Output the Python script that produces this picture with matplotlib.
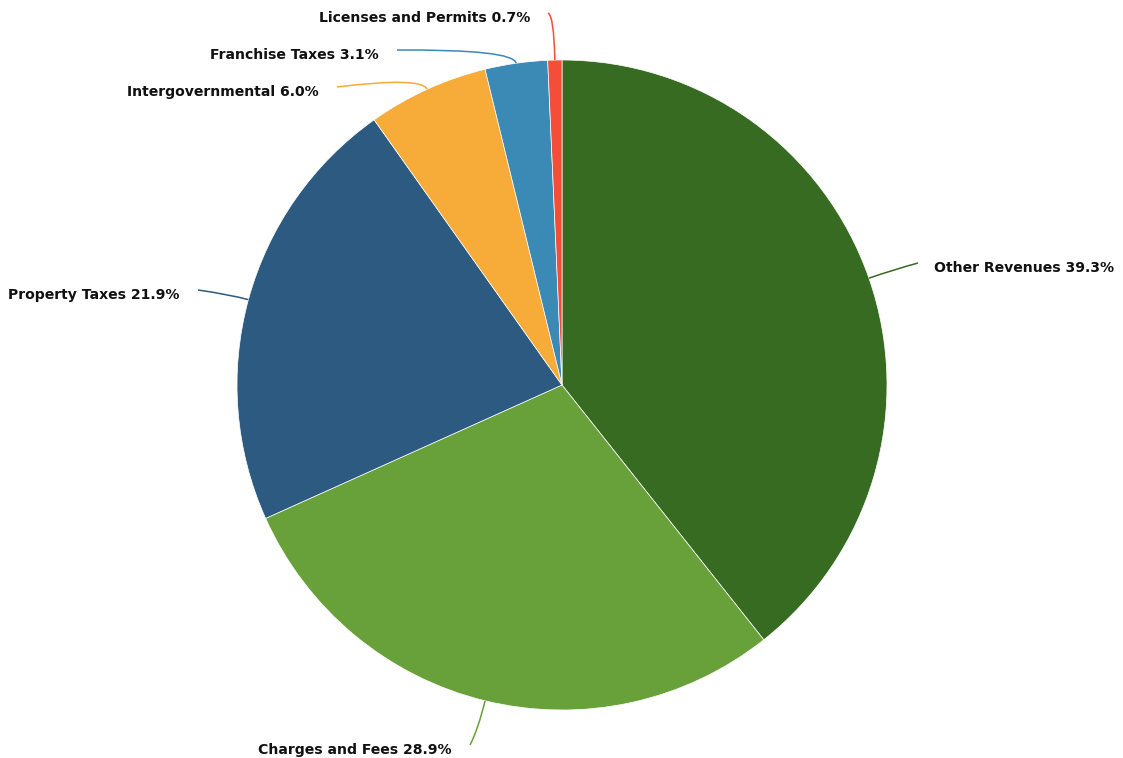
import matplotlib
matplotlib.use("Agg")
import matplotlib.pyplot as plt
import numpy as np
from matplotlib.path import Path
from matplotlib.patches import PathPatch

# revenue shares, clockwise from 12 o'clock
categories = ["Other Revenues", "Charges and Fees", "Property Taxes",
              "Intergovernmental", "Franchise Taxes", "Licenses and Permits"]
shares = [39.3, 28.9, 21.9, 6.0, 3.1, 0.7]
colors = ["#366b21", "#68a03a", "#2d5a80", "#f7ab38", "#3b89b5", "#f44d38"]

W, H = 1123, 758
cx, cy, R = 562, H - 385, 325

# where each connector ends (pixel coords, y from top) and label alignment
label_ends = [(918, 263), (470, 745), (198, 290), (337, 87), (397, 50), (548, 13)]
ctrl_push = [25, 30, 20, 14, 14, 45]
label_align = ["left", "right", "right", "right", "right", "right"]

fig = plt.figure(figsize=(W / 100, H / 100), dpi=100)
ax = fig.add_axes([0, 0, 1, 1])

wedges, _ = ax.pie(shares, colors=colors, startangle=90, counterclock=False,
                   center=(cx, cy), radius=R, frame=True,
                   wedgeprops=dict(edgecolor="white", linewidth=0.5))
ax.set_xlim(0, W)
ax.set_ylim(0, H)
ax.set_aspect("equal")
ax.axis("off")

for w, name, val, col, end, push, ha in zip(wedges, categories, shares, colors,
                                            label_ends, ctrl_push, label_align):
    mid = np.deg2rad((w.theta1 + w.theta2) / 2)
    ux, uy = np.cos(mid), np.sin(mid)
    sx, sy = cx + R * ux, cy + R * uy
    ex, ey = end[0], H - end[1]
    # quadratic curve: out of the slice radially, then bend toward the label
    kx, ky = sx + ux * push, sy + uy * push
    path = Path([(sx, sy), (kx, ky), (ex, ey)],
                [Path.MOVETO, Path.CURVE3, Path.CURVE3])
    ax.add_patch(PathPatch(path, fill=False, edgecolor=col, lw=1.1))
    tx = ex + 16 if ha == "left" else ex - 18
    ax.text(tx, ey - 5, f"{name} {val}%", ha=ha, va="center",
            fontsize=10.1, fontweight="bold", color="#111111",
            family="DejaVu Sans")

fig.savefig("out.png", dpi=100)
